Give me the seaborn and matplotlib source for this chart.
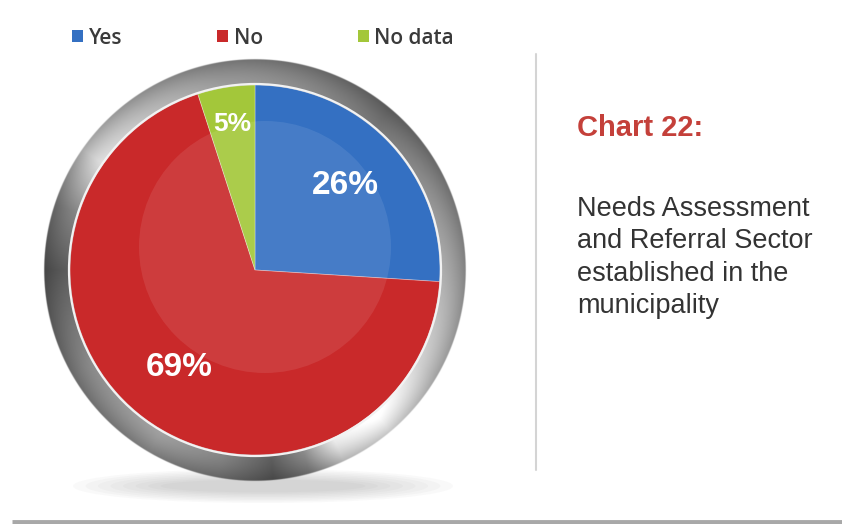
import numpy as np
import matplotlib
matplotlib.use("Agg")
import matplotlib.pyplot as plt
from matplotlib.patches import Circle, Ellipse
import seaborn as sns

# chart data
categories = ["Yes", "No", "No data"]
shares = [26, 69, 5]
pct_labels = ["26%", "69%", "5%"]
title_text = "Chart 22:"
caption_text = "Needs Assessment\nand Referral Sector\nestablished in the\nmunicipality"

sns.set_theme(style="white")
plt.rcParams["font.family"] = ["Liberation Sans", "DejaVu Sans"]
palette = sns.color_palette(["#3470c2", "#c9292a", "#a3c73a"])

W, H = 842, 524
fig = plt.figure(figsize=(W / 100, H / 100), dpi=100)
fig.patch.set_facecolor("white")
ax = fig.add_axes([0, 0, 1, 1])

cx, cy = 255, 254          # pie centre (pixel space, y up)
r_pie, r_ring = 185, 211   # pie radius and outer radius of the metal bezel

# soft shadow under the bezel
for k in range(8):
    ax.add_patch(Ellipse((cx + 8, cy - 216), 380 - k * 25, 34 - k * 3,
                         facecolor="#666666", edgecolor="none", alpha=0.035, zorder=0))

# metallic bezel rendered as an image
n = 900
xs = np.linspace(cx - r_ring - 4, cx + r_ring + 4, n)
ys = np.linspace(cy - r_ring - 4, cy + r_ring + 4, n)
X, Y = np.meshgrid(xs, ys)
R = np.hypot(X - cx, Y - cy)
T = np.degrees(np.arctan2(Y - cy, X - cx))
ang = [-180, -150, -120, -100, -85, -75, -65, -50, -30, 0, 30, 50, 75, 100, 125, 145, 162, 180]
lum = [0.33, 0.50, 0.58, 0.48, 0.34, 0.50, 0.85, 0.95, 0.76, 0.62, 0.50, 0.42, 0.50, 0.56, 0.68, 0.80, 0.48, 0.33]
base = np.interp(T, ang, lum)
t = np.clip((R - r_pie) / (r_ring - r_pie), 0, 1)
radial = 1.10 - 0.28 * t ** 1.5
g = np.clip(base * radial, 0, 1)
alpha = np.clip(r_ring - R + 0.5, 0, 1) * np.clip(R - r_pie + 3, 0, 1)
img = np.dstack([g, g, g, alpha])
ax.imshow(np.clip(img, 0, 1), extent=(xs[0], xs[-1], ys[0], ys[-1]),
          origin="lower", interpolation="bilinear", zorder=1)

# pie
wedges, _ = ax.pie(shares, colors=palette, startangle=90, counterclock=False,
                   center=(cx, cy), radius=r_pie,
                   wedgeprops=dict(linewidth=0.6, edgecolor=(1, 1, 1, 0.35)))
for w in wedges:
    w.set_zorder(2)

# thin light rim between pie and bezel
ax.add_patch(Circle((cx, cy), r_pie + 1, facecolor="none", edgecolor="#f2f2f2",
                    linewidth=1.6, zorder=3))
# glossy inner highlight
ax.add_patch(Circle((cx + 10, cy + 23), 126, facecolor="white", edgecolor="none",
                    alpha=0.09, zorder=3))

# percentage labels placed along each wedge's bisector
label_dist = [0.67, 0.67, 0.80]
label_size = [24, 24, 19]
for w, lab, d, fs in zip(wedges, pct_labels, label_dist, label_size):
    mid = np.radians((w.theta1 + w.theta2) / 2)
    ax.text(cx + d * r_pie * np.cos(mid), cy + d * r_pie * np.sin(mid), lab,
            ha="center", va="center", color="white", fontsize=fs,
            fontweight="bold", zorder=4)

# legend across the top
leg = ax.legend(wedges, categories, loc="center left", bbox_to_anchor=(72 / W, 486 / H),
                ncol=3, frameon=False, handlelength=0.55, handleheight=0.55,
                handletextpad=0.25, columnspacing=4.55, borderaxespad=0, borderpad=0,
                prop=dict(family=["Open Sans", "DejaVu Sans"], weight=600, size=15))
for txt in leg.get_texts():
    txt.set_color("#3a3a3a")
for h in leg.legend_handles:
    h.set_edgecolor("none")

# vertical divider and bottom rule
ax.plot([536, 536], [54, 470], color="#d4d4d4", linewidth=1.5, zorder=1)
ax.plot([12, W], [2, 2], color="#a8a8a8", linewidth=3.5, solid_capstyle="butt", zorder=1)

# right-hand caption
ax.text(577, 524 - 128, title_text, ha="left", va="center", color="#c4403a",
        fontsize=21, fontweight="bold")
ax.text(577, 524 - 196, caption_text, ha="left", va="top", color="#333333",
        fontsize=19.5, linespacing=1.32)

ax.set_xlim(0, W)
ax.set_ylim(0, H)
ax.set_aspect("equal")
ax.axis("off")

fig.savefig("out.png", dpi=100, facecolor="white")
